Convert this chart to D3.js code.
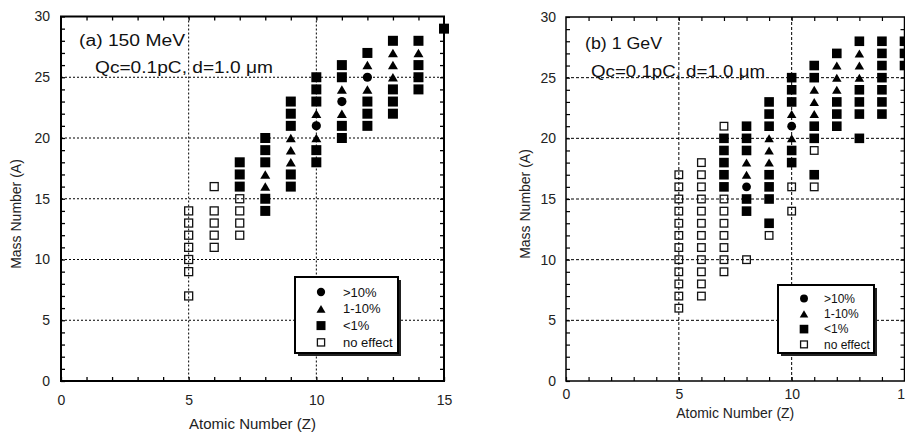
<!DOCTYPE html>
<html><head><meta charset="utf-8">
<script src="https://cdn.jsdelivr.net/npm/d3@7"></script>
<style>
html,body{margin:0;padding:0;background:#fff;}
svg{display:block;font-family:"Liberation Sans",Arial,Helvetica,sans-serif;}
</style></head><body>
<svg id="chart" width="905" height="436"></svg>
<script>
// ---------- data ----------
const xTickLabels = [0, 5, 10, 15];
const yTickLabels = [0, 5, 10, 15, 20, 25, 30];
const legendLabels = [">10%", "1-10%", "<1%", "no effect"];
const panelTitles = ["(a) 150 MeV", "(b) 1 GeV"];
const subTitle = "Qc=0.1pC, d=1.0 \u03bcm";
const xTitle = "Atomic Number (Z)";
const yTitle = "Mass Number (A)";

// Panel (a) 150 MeV : [Z, A]
const aHigh = [[10,21],[11,23],[12,25]];
const aMid = [[8,16],[8,17],[9,18],[9,19],[9,20],[10,20],[10,22],[11,22],[11,24],[12,24],[12,26],[13,25],[13,26],[13,27],[14,27]];
const aLow = [[7,16],[7,17],[7,18],[8,14],[8,15],[8,18],[8,19],[8,20],[9,16],[9,17],[9,21],[9,22],[9,23],
  [10,18],[10,19],[10,23],[10,24],[10,25],[11,20],[11,21],[11,25],[11,26],[12,21],[12,22],[12,23],[12,27],
  [13,22],[13,23],[13,24],[13,28],[14,24],[14,25],[14,26],[14,28],[15,29]];
const aNone = [[5,7],[5,9],[5,10],[5,11],[5,12],[5,13],[5,14],[6,11],[6,12],[6,13],[6,14],[6,16],[7,12],[7,13],[7,14],[7,15]];

// Panel (b) 1 GeV : [Z, A]
const bHigh = [[8,16],[10,21]];
const bMid = [[8,17],[8,18],[9,18],[9,19],[9,20],[10,20],[10,22],[11,22],[11,23],[11,24],[12,24],[12,25],[12,26],[13,25],[13,26],[13,27]];
const bLow = [[7,16],[7,17],[7,18],[7,19],[7,20],[8,14],[8,15],[8,19],[8,20],[8,21],
  [9,13],[9,15],[9,16],[9,17],[9,21],[9,22],[9,23],[10,18],[10,19],[10,23],[10,24],[10,25],
  [11,17],[11,20],[11,21],[11,25],[11,26],[12,21],[12,22],[12,23],[12,27],
  [13,20],[13,22],[13,23],[13,24],[13,28],[14,22],[14,23],[14,24],[14,25],[14,26],[14,27],[14,28],
  [15,26],[15,27],[15,28]];
const bNone = [[5,6],[5,7],[5,8],[5,9],[5,10],[5,11],[5,12],[5,13],[5,14],[5,15],[5,16],[5,17],
  [6,7],[6,8],[6,9],[6,10],[6,11],[6,12],[6,13],[6,14],[6,15],[6,16],[6,17],[6,18],
  [7,9],[7,10],[7,11],[7,12],[7,13],[7,14],[7,15],[7,21],[8,10],[9,12],[10,14],[10,16],[11,16],[11,19]];

// ---------- layout ----------
const svg = d3.select("#chart");
const panels = [
  {series:[aHigh,aMid,aLow,aNone], title:panelTitles[0],
   x0:61, x1:444, yTop:16.5, yBot:381, frameW:2, tickW:1.3, dash:"2,2",
   sq:10, osq:8, tri:[10,8.5], r:4.6,
   yLabPad:11, xLabPad:14, xTitleY:429, xTitleLen:127, yTitleX:21, yTitleY:214,
   t1:[79,46,106], t2:[95,73,178],
   leg:{x:295,y:277,w:103,h:76,sx:321,tx:343,r0:292,dy:16.8,fs:13}},
  {series:[bHigh,bMid,bLow,bNone], title:panelTitles[1],
   x0:566, x1:904.5, yTop:17, yBot:381, frameW:1.5, tickW:1.2, dash:"3,2",
   sq:9.6, osq:7.6, tri:[9.5,8], r:4.4,
   yLabPad:10, xLabPad:8, xTitleY:418, xTitleLen:118, yTitleX:530, yTitleY:204,
   t1:[585,48.5,77], t2:[591,77,174],
   leg:{x:778,y:285,w:96,h:68,sx:804,tx:824,r0:298.5,dy:15.3,fs:12}}
];
const kinds = ["circle","triangle","square","open"];

function marker(g, kind, cx, cy, p, scale) {
  const s = scale || 1;
  if (kind === "circle") {
    g.append("circle").attr("cx",cx).attr("cy",cy).attr("r",p.r*s).attr("fill","#000");
  } else if (kind === "triangle") {
    const w = p.tri[0]*s, h = p.tri[1]*s;
    g.append("path").attr("d",`M${cx},${cy-h/2}L${cx+w/2},${cy+h/2}L${cx-w/2},${cy+h/2}Z`).attr("fill","#000");
  } else if (kind === "square") {
    const a = p.sq*s;
    g.append("rect").attr("x",cx-a/2).attr("y",cy-a/2).attr("width",a).attr("height",a).attr("fill","#000");
  } else {
    const a = p.osq*s;
    g.append("rect").attr("x",cx-a/2).attr("y",cy-a/2).attr("width",a).attr("height",a)
      .attr("fill","none").attr("stroke","#111").attr("stroke-width",1.3);
  }
}

panels.forEach(p => {
  const x = d3.scaleLinear().domain([0,15]).range([p.x0,p.x1]);
  const y = d3.scaleLinear().domain([0,30]).range([p.yBot,p.yTop]);
  const g = svg.append("g");

  // gridlines
  const grid = g.append("g").attr("stroke","#000").attr("stroke-width",1).attr("stroke-dasharray",p.dash);
  xTickLabels.filter(v => v > 0 && v < 15).forEach(v => {
    grid.append("line").attr("x1",x(v)).attr("x2",x(v)).attr("y1",p.yTop).attr("y2",p.yBot);
  });
  yTickLabels.filter(v => v > 0 && v < 30).forEach(v => {
    grid.append("line").attr("x1",p.x0).attr("x2",p.x1).attr("y1",y(v)).attr("y2",y(v));
  });

  // axes
  const fmtX = d => xTickLabels.includes(d) ? d : "";
  const fmtY = d => yTickLabels.includes(d) ? d : "";
  const bottom = g.append("g").attr("transform",`translate(0,${p.yBot})`)
    .call(d3.axisBottom(x).tickValues(d3.range(0,16)).tickSize(-4).tickPadding(p.xLabPad).tickFormat(fmtX));
  const left = g.append("g").attr("transform",`translate(${p.x0},0)`)
    .call(d3.axisLeft(y).tickValues(d3.range(0,31)).tickSize(-4).tickPadding(p.yLabPad).tickFormat(fmtY));
  const top = g.append("g").attr("transform",`translate(0,${p.yTop})`)
    .call(d3.axisTop(x).tickValues(d3.range(1,15)).tickSize(-4).tickFormat(""));
  const right = g.append("g").attr("transform",`translate(${p.x1},0)`)
    .call(d3.axisRight(y).tickValues(d3.range(1,30)).tickSize(-4).tickFormat(""));
  [bottom,left,top,right].forEach(a => {
    a.select(".domain").remove();
    a.selectAll("line").attr("stroke","#000").attr("stroke-width",p.tickW);
    a.selectAll("text").attr("font-size",14).attr("fill","#222").attr("font-family","Liberation Sans, Arial, sans-serif");
  });

  // frame
  g.append("rect").attr("x",p.x0).attr("y",p.yTop).attr("width",p.x1-p.x0).attr("height",p.yBot-p.yTop)
    .attr("fill","none").attr("stroke","#000").attr("stroke-width",p.frameW);

  // markers
  const mg = g.append("g");
  p.series.forEach((pts, i) => {
    pts.forEach(d => marker(mg, kinds[i], x(d[0]), y(d[1]), p));
  });

  // titles
  g.append("text").attr("x",(p.x0+p.x1)/2).attr("y",p.xTitleY).attr("text-anchor","middle")
    .attr("font-size",14).attr("fill","#222").attr("textLength",p.xTitleLen).attr("lengthAdjust","spacingAndGlyphs").text(xTitle);
  g.append("text").attr("transform",`translate(${p.yTitleX},${p.yTitleY}) rotate(-90)`).attr("text-anchor","middle")
    .attr("font-size",14).attr("fill","#222").text(yTitle);

  // annotations
  g.append("text").attr("x",p.t1[0]).attr("y",p.t1[1]).attr("font-size",16).attr("fill","#111")
    .attr("textLength",p.t1[2]).attr("lengthAdjust","spacingAndGlyphs").text(p.title);
  g.append("text").attr("x",p.t2[0]).attr("y",p.t2[1]).attr("font-size",16).attr("fill","#111")
    .attr("textLength",p.t2[2]).attr("lengthAdjust","spacingAndGlyphs").text(subTitle);

  // legend
  const L = p.leg;
  const lg = g.append("g");
  lg.append("rect").attr("x",L.x+3).attr("y",L.y+3).attr("width",L.w).attr("height",L.h).attr("fill","#222");
  lg.append("rect").attr("x",L.x).attr("y",L.y).attr("width",L.w).attr("height",L.h)
    .attr("fill","#fff").attr("stroke","#000").attr("stroke-width",2);
  legendLabels.forEach((lab, i) => {
    const cy = L.r0 + i*L.dy;
    marker(lg, kinds[i], L.sx, cy, p, 0.9);
    lg.append("text").attr("x",L.tx).attr("y",cy).attr("dy","0.35em").attr("font-size",L.fs).attr("fill","#111").text(lab);
  });
});
</script>
</body></html>
